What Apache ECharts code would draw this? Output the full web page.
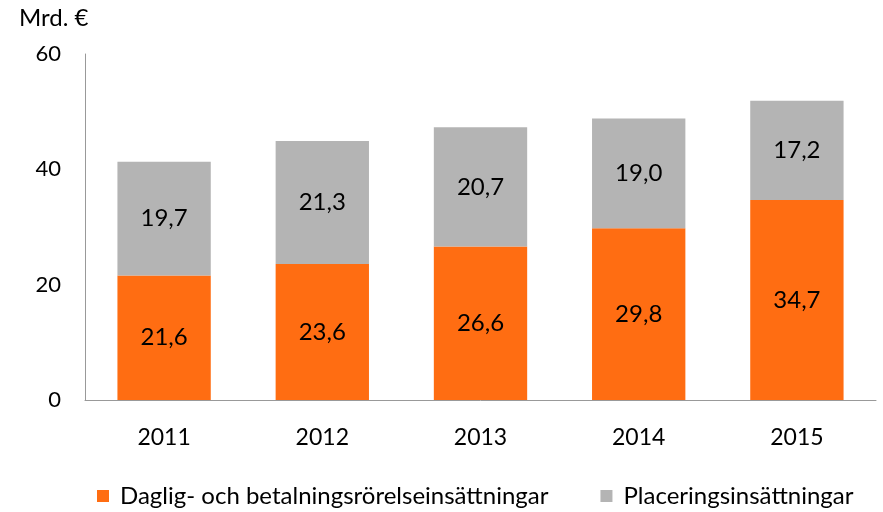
<!DOCTYPE html>
<html><head><meta charset="utf-8">
<script src="https://cdn.jsdelivr.net/npm/echarts@6/dist/echarts.min.js"></script>
<style>html,body{margin:0;padding:0;background:#fff}#c{width:883px;height:512px}</style>
</head><body><div id="c"></div>
<script>
const categories = ['2011','2012','2013','2014','2015'];
const daglig = [21.6, 23.6, 26.6, 29.8, 34.7];
const placering = [19.7, 21.3, 20.7, 19.0, 17.2];
const seriesNames = ['Daglig- och betalningsrörelseinsättningar', 'Placeringsinsättningar'];
const yTicks = [0, 20, 40, 60];

const font = 'Lato, "Open Sans", sans-serif';
const chart = echarts.init(document.getElementById('c'));
const fmt = p => p.value.toFixed(1).replace('.', ',');
chart.setOption({
  animation: false,
  textStyle: {fontFamily: font},
  title: {text: 'Mrd. €', left: 14, top: 1, textStyle: {fontFamily: font, fontSize: 24, fontWeight: 'normal', color: '#000'}},
  grid: {left: 85, right: 7, top: 54, bottom: 112},
  legend: {
    bottom: -1, left: 92, itemGap: 52, itemWidth: 12, itemHeight: 12, icon: 'rect',
    textStyle: {fontFamily: font, fontSize: 24, color: '#000', padding: [0, 0, 0, 6]},
    data: seriesNames
  },
  xAxis: {
    type: 'category', data: categories,
    axisLine: {lineStyle: {color: '#999', width: 1}},
    axisTick: {show: false},
    axisLabel: {fontFamily: font, fontSize: 23, color: '#000', margin: 26}
  },
  yAxis: {
    type: 'value', min: 0, max: 60, interval: 20,
    axisLine: {show: true, lineStyle: {color: '#999', width: 1}},
    axisTick: {show: false},
    splitLine: {show: false},
    axisLabel: {fontFamily: font, fontSize: 22, color: '#000', margin: 24}
  },
  series: [
    {name: seriesNames[0], type: 'bar', stack: 'a', data: daglig, barWidth: '59%',
     itemStyle: {color: '#FF6D12'},
     label: {show: true, position: 'inside', formatter: fmt, fontFamily: font, fontSize: 24, color: '#000'}},
    {name: seriesNames[1], type: 'bar', stack: 'a', data: placering, barWidth: '59%',
     itemStyle: {color: '#B4B4B4'},
     label: {show: true, position: 'inside', formatter: fmt, fontFamily: font, fontSize: 24, color: '#000'}}
  ]
});
</script></body></html>
